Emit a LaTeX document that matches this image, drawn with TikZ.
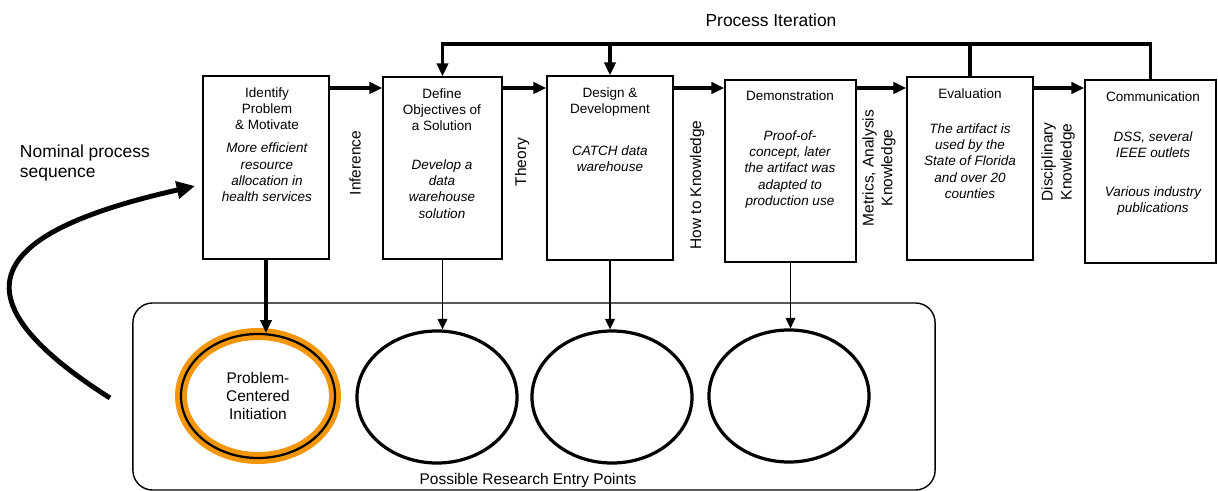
\documentclass[tikz,border=0pt]{standalone}
\usepackage{fontspec}
\setmainfont{Liberation Sans}
\usetikzlibrary{arrows.meta,shapes.geometric,positioning}
\definecolor{pciorange}{RGB}{243,150,10}

\begin{document}
\begin{tikzpicture}[x=0.025cm,y=-0.025cm,
        stepbox/.style={draw, line width=1.2pt, inner sep=0pt},
        boxtitle/.style={align=center, font=\fontsize{9.6}{11.4}\selectfont},
        boxdesc/.style={align=center, font=\fontsize{9.6}{11.6}\selectfont\itshape},
        sidelabel/.style={rotate=90, align=center, font=\fontsize{11}{13.5}\selectfont},
        entrypt/.style={draw, ellipse, line width=2.3pt, minimum width=4cm, minimum height=3.3cm, inner sep=0pt},
        flowarrow/.style={line width=2.2pt, -{Triangle[length=9pt,width=8pt]}},
        thinarrow/.style={line width=0.8pt, -{Triangle[length=7.5pt,width=7pt]}},
        iterline/.style={line width=2.2pt}]
        \useasboundingbox (0,0) rectangle (1218,491);

        \node[stepbox, minimum width=3.15cm, minimum height=4.575cm] (ident) at (266,167.5) {};
        \node[stepbox, minimum width=2.975cm, minimum height=4.55cm] (define) at (442.5,168) {};
        \node[stepbox, minimum width=3.15cm, minimum height=4.6cm] (design) at (610,168) {};
        \node[stepbox, minimum width=3.275cm, minimum height=4.55cm] (demo) at (790.5,171) {};
        \node[stepbox, minimum width=3.15cm, minimum height=4.575cm] (eval) at (970,168.5) {};
        \node[stepbox, minimum width=3.275cm, minimum height=4.575cm] (comm) at (1150.5,171.5) {};

        \node[boxtitle] (identT) at (267,109) {Identify\\Problem\\\& Motivate};
        \node[boxdesc] (identD) at (267,172.5) {More efficient\\resource\\allocation in\\health services};
        \node[boxtitle] (defineT) at (442,109.5) {Define\\Objectives of\\a Solution};
        \node[boxdesc] (defineD) at (442,189) {Develop a\\data\\warehouse\\solution};
        \node[boxtitle] (designT) at (610,102) {Design \&\\Development};
        \node[boxdesc] (designD) at (610,158.5) {CATCH data\\warehouse};
        \node[boxtitle] (demoT) at (790,96) {Demonstration};
        \node[boxdesc] (demoD) at (790,169.5) {Proof-of-\\concept, later\\the artifact was\\adapted to\\production use};
        \node[boxtitle] (evalT) at (970,94) {Evaluation};
        \node[boxdesc] (evalD) at (970,161) {The artifact is\\used by the\\State of Florida\\and over 20\\counties};
        \node[boxtitle] (commT) at (1153,97) {Communication};
        \node[boxdesc] (commD) at (1153,145) {DSS, several\\IEEE outlets};
        \node[boxdesc] (commD2) at (1153,201) {Various industry\\publications};

        \node[sidelabel] (infer) at (355,163) {Inference};
        \node[sidelabel] (theory) at (522,162) {Theory};
        \node[sidelabel] (howto) at (697,185) {How to Knowledge};
        \node[sidelabel] (metrics) at (879,168) {Metrics, Analysis\\Knowledge};
        \node[sidelabel] (discip) at (1058,162) {Disciplinary\\Knowledge};

        \coordinate (row) at (0,88);
        \draw[flowarrow] (ident.east |- row) -- (define.west |- row);
        \draw[flowarrow] (define.east |- row) -- (design.west |- row);
        \draw[flowarrow] (design.east |- row) -- (demo.west |- row);
        \draw[flowarrow] (demo.east |- row) -- (eval.west |- row);
        \draw[flowarrow] (eval.east |- row) -- (comm.west |- row);

        \coordinate (iter) at (0,44);
        \node[font=\fontsize{12.4}{14}\selectfont] (iterlbl) at (771,20) {Process Iteration};
        \draw[flowarrow] (comm.north) |- (define.north |- iter) -- (define.north);
        \draw[flowarrow] (design.north |- iter) -- (design.north);
        \draw[iterline] (eval.north) -- (eval.north |- iter);

        \node[draw, rounded corners=14pt, line width=1pt, minimum width=20.05cm, minimum height=4.675cm] (entrybox) at (534,396.5) {};
        \node[font=\fontsize{11}{13}\selectfont] (entrylbl) at (528,480) {Possible Research Entry Points};

        \node[entrypt, minimum width=3.85cm, minimum height=3.1cm, line width=1.6pt,
            preaction={draw=pciorange, line width=8.5pt},
            align=center, font=\fontsize{11}{12.8}\selectfont] (pci) at (258,396) {Problem-\\Centered\\Initiation};
        \node[entrypt] (entry2) at (437,397) {};
        \node[entrypt] (entry3) at (612,397) {};
        \node[entrypt] (entry4) at (789,396) {};

        \draw[flowarrow] (ident.south) -- (ident.south |- pci.north);
        \draw[thinarrow] (define.south) -- (define.south |- entry2.north);
        \draw[thinarrow] (design.south) -- (design.south |- entry3.north);
        \draw[thinarrow] (demo.south) -- (demo.south |- entry4.north);

        \node[align=left, anchor=west, font=\fontsize{12.4}{14.2}\selectfont] (nominal) at (15,163) {Nominal process\\sequence};
        \coordinate (nomstart) at (110,398);
        \coordinate (nomend) at (195,186);
        \draw[line width=3.5pt, -{Triangle[length=13pt,width=12pt]}] (nomstart) .. controls (-60,290) and (0,230) .. (nomend);

    \end{tikzpicture}
\end{document}
